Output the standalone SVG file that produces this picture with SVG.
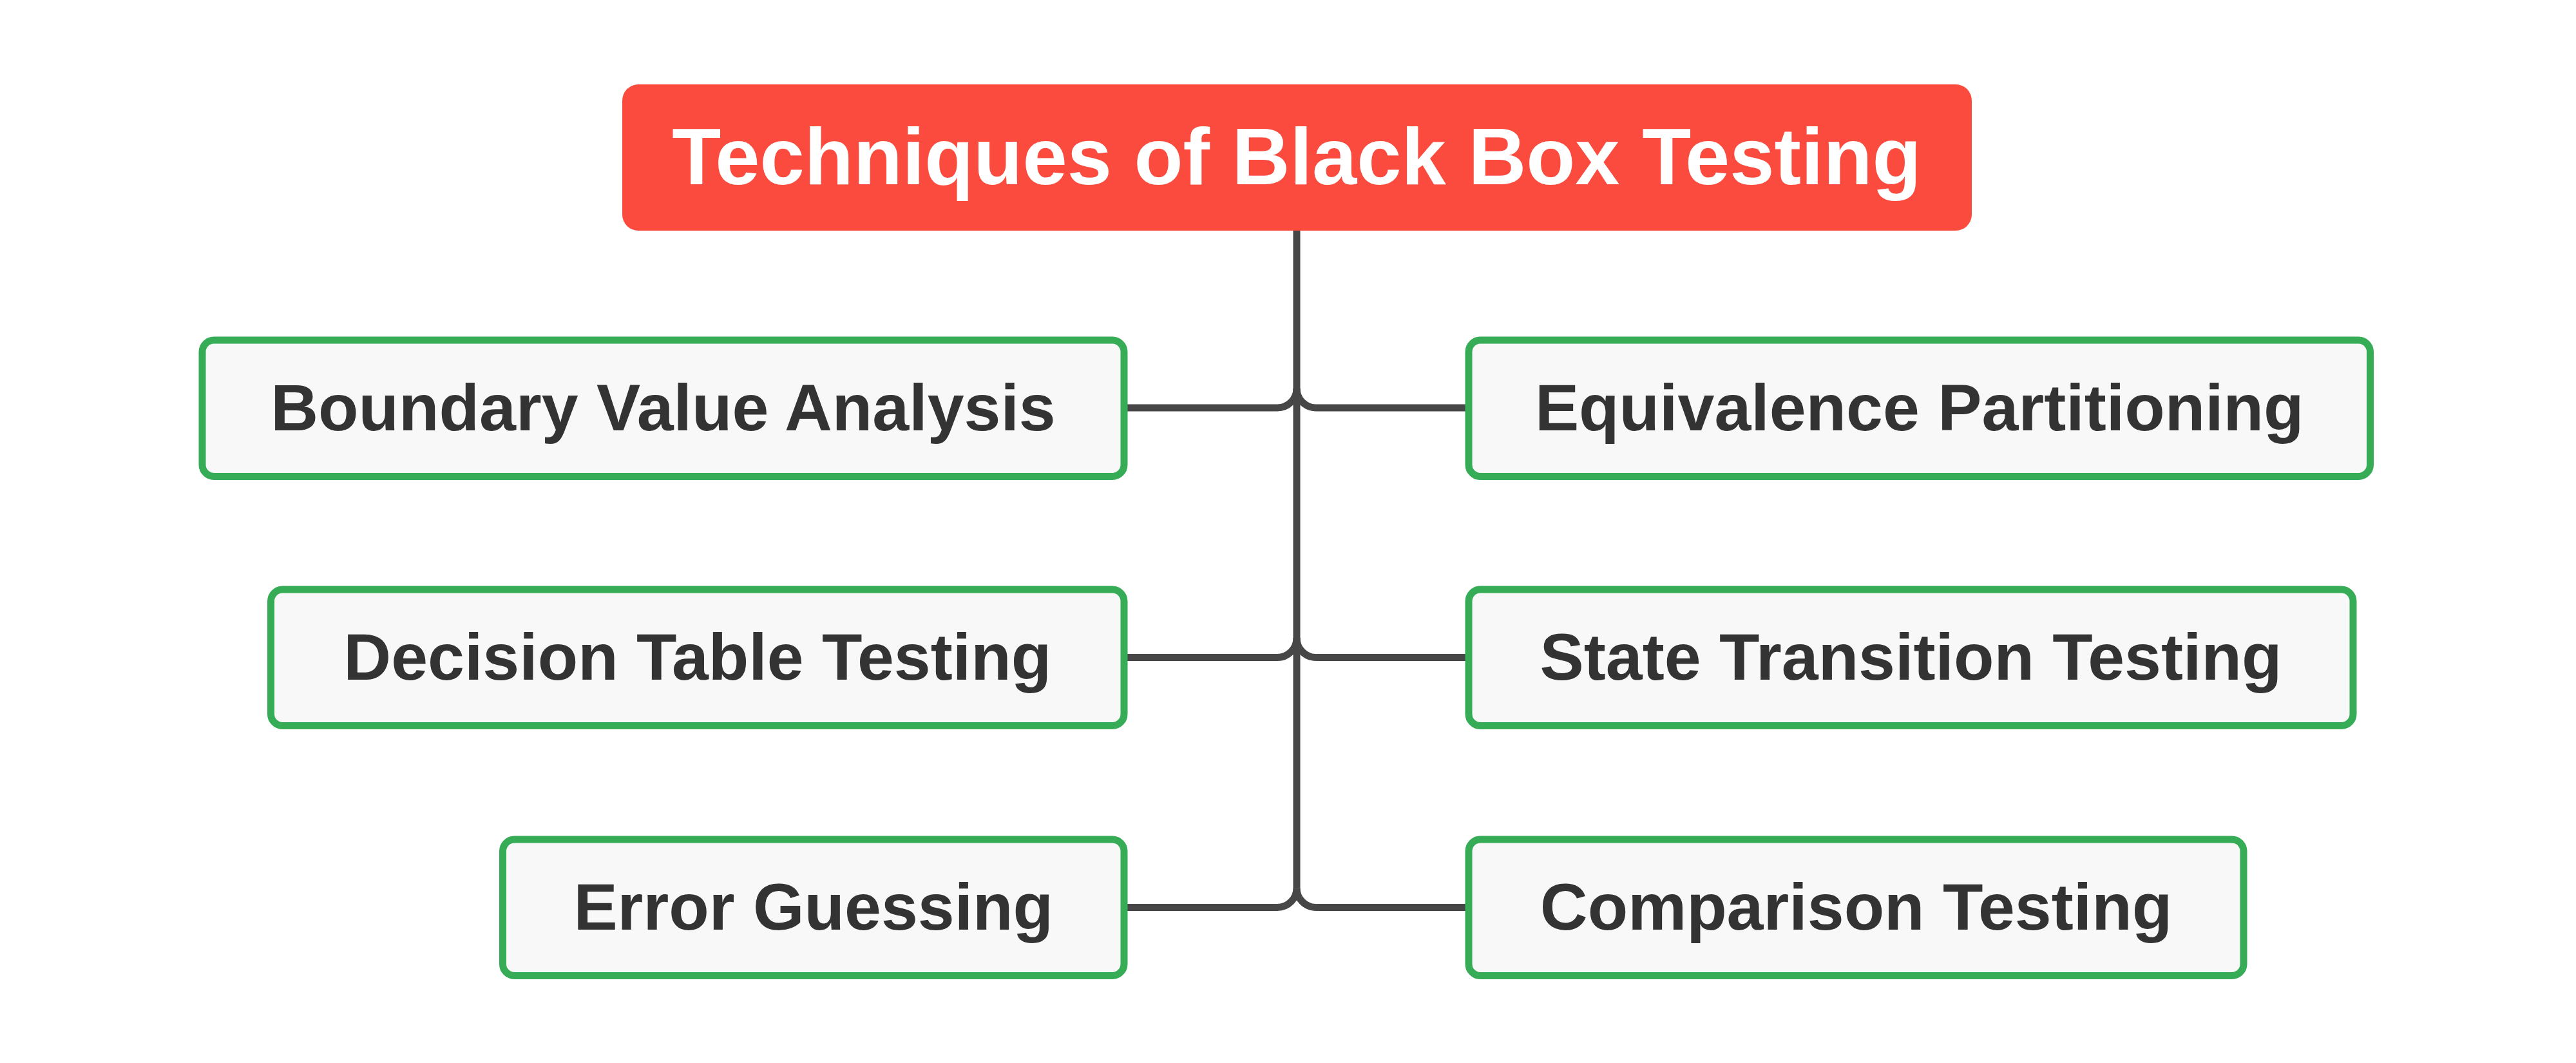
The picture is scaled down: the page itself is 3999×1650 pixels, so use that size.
<svg xmlns="http://www.w3.org/2000/svg" width="3999" height="1650" viewBox="0 0 3999 1650">
<style>
.conn{fill:none;stroke:#474747;stroke-width:11}
.node rect{fill:#F8F8F8;stroke:#35AC55;stroke-width:11}
.node text{font-family:"Liberation Sans",Arial,sans-serif;font-weight:bold;font-size:102.3px;fill:#333333;text-anchor:middle}
.root rect{fill:#FA4B3E}
.root text{font-family:"Liberation Sans",Arial,sans-serif;font-weight:bold;font-size:124.5px;fill:#FFFFFF;text-anchor:middle}
</style>
<rect width="3999" height="1650" fill="#FFFFFF"/>
<g id="connectors">
<path class="conn" d="M2013 358 V1378.5"/>
<path class="conn" d="M2013 603 A30 30 0 0 1 1983 633 H1745"/>
<path class="conn" d="M2013 603 A30 30 0 0 0 2043 633 H2280"/>
<path class="conn" d="M2013 990.5 A30 30 0 0 1 1983 1020.5 H1745"/>
<path class="conn" d="M2013 990.5 A30 30 0 0 0 2043 1020.5 H2280"/>
<path class="conn" d="M2013 1378.5 A30 30 0 0 1 1983 1408.5 H1745"/>
<path class="conn" d="M2013 1378.5 A30 30 0 0 0 2043 1408.5 H2280"/>
</g>
<g id="root" class="root">
<rect x="966" y="131" width="2095" height="227" rx="25"/>
<text x="2013" y="286">Techniques of Black Box Testing</text>
</g>
<g id="boundary" class="node">
<rect x="314" y="528" width="1431" height="211.5" rx="18"/>
<text x="1029.5" y="668">Boundary Value Analysis</text>
</g>
<g id="decision" class="node">
<rect x="420.5" y="915" width="1324.5" height="211.5" rx="18"/>
<text x="1082.75" y="1054.5">Decision Table Testing</text>
</g>
<g id="error" class="node">
<rect x="780.5" y="1303" width="964.5" height="211.5" rx="18"/>
<text x="1262.75" y="1442.5">Error Guessing</text>
</g>
<g id="equivalence" class="node">
<rect x="2280" y="528" width="1399.5" height="211.5" rx="18"/>
<text x="2979.75" y="668">Equivalence Partitioning</text>
</g>
<g id="state" class="node">
<rect x="2280" y="915" width="1373" height="211.5" rx="18"/>
<text x="2966.5" y="1054.5">State Transition Testing</text>
</g>
<g id="comparison" class="node">
<rect x="2280" y="1303" width="1203" height="211.5" rx="18"/>
<text x="2881.5" y="1442.5">Comparison Testing</text>
</g>
</svg>
